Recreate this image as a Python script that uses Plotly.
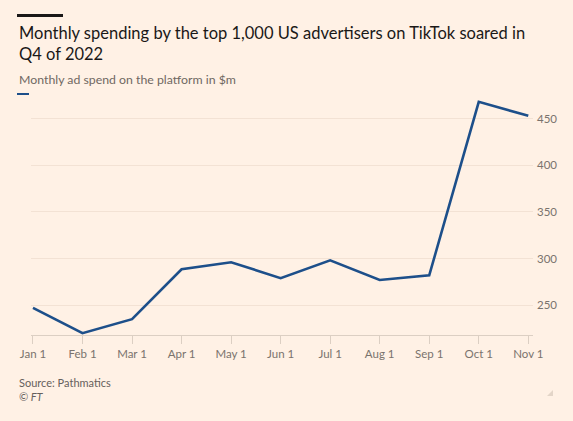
import plotly.graph_objects as go

months = ["Jan 1", "Feb 1", "Mar 1", "Apr 1", "May 1", "Jun 1",
          "Jul 1", "Aug 1", "Sep 1", "Oct 1", "Nov 1"]
ad_spend = [247, 220, 235, 288.5, 296, 279, 298, 277, 282, 468, 453]
y_ticks = [250, 300, 350, 400, 450]

title_text = "Monthly spending by the top 1,000 US advertisers on TikTok soared in<br>Q4 of 2022"
subtitle_text = "Monthly ad spend on the platform in $m"
source_text = "Source: Pathmatics"
credit_text = "<i>© FT</i>"

BG = "#fff1e5"
FONT = "Lato"
L, R, T, B = 31, 40, 100, 86
W, H = 573, 421
PW = W - L - R
PH = H - T - B


def px(X):
    return (X - L) / PW


def py(Y):
    return (H - B - Y) / PH


fig = go.Figure()
fig.add_trace(go.Scatter(
    x=months, y=ad_spend, mode="lines",
    line=dict(color="#1d4f8a", width=2.6),
    hoverinfo="skip", showlegend=False,
))

fig.update_layout(
    width=W, height=H,
    margin=dict(l=L, r=R, t=T, b=B),
    paper_bgcolor=BG, plot_bgcolor=BG,
    font=dict(family=FONT, color="#66605c"),
    showlegend=False,
    xaxis=dict(
        type="category", range=[-0.04, 10.095],
        showgrid=False, zeroline=False,
        showline=True, linecolor="#dccfc3", linewidth=1,
        ticks="outside", ticklen=8, tickcolor="#dccfc3", tickwidth=1,
        tickfont=dict(size=11.5, color="#7a736d", family=FONT),
    ),
    yaxis=dict(
        side="right", range=[218, 470],
        tickvals=y_ticks, ticktext=[str(v) for v in y_ticks],
        showgrid=True, gridcolor="#f3e2d4", gridwidth=1,
        zeroline=False, showline=False, ticks="",
        ticklabelstandoff=3,
        tickfont=dict(size=11.5, color="#7a736d", family=FONT),
    ),
    shapes=[
        dict(type="rect", xref="paper", yref="paper",
             x0=px(17), x1=px(63), y0=py(17), y1=py(14),
             fillcolor="#1a1817", line=dict(width=0)),
        dict(type="rect", xref="paper", yref="paper",
             x0=px(17), x1=px(29), y0=py(95), y1=py(93),
             fillcolor="#1d4f8a", line=dict(width=0)),
        dict(type="path", xref="paper", yref="paper",
             path=f"M {px(553)} {py(390)} L {px(553)} {py(396)} L {px(547)} {py(396)} Z",
             fillcolor="#e3d5c8", line=dict(width=0)),
    ],
    annotations=[
        dict(text=title_text, x=px(17), y=py(21.5), xref="paper", yref="paper",
             xanchor="left", yanchor="top", showarrow=False, align="left",
             font=dict(size=16.5, color="#1a1817", family=FONT)),
        dict(text=subtitle_text, x=px(17), y=py(79), xref="paper", yref="paper",
             xanchor="left", yanchor="middle", showarrow=False,
             font=dict(size=12.3, color="#6f6862", family=FONT)),
        dict(text=source_text, x=px(17), y=py(382), xref="paper", yref="paper",
             xanchor="left", yanchor="middle", showarrow=False,
             font=dict(size=11, color="#66605c", family=FONT)),
        dict(text=credit_text, x=px(17), y=py(396), xref="paper", yref="paper",
             xanchor="left", yanchor="middle", showarrow=False,
             font=dict(size=11, color="#66605c", family=FONT)),
    ],
)

fig.write_html("out.html", config={"displayModeBar": False},
               post_script="document.body.style.margin='0';")
